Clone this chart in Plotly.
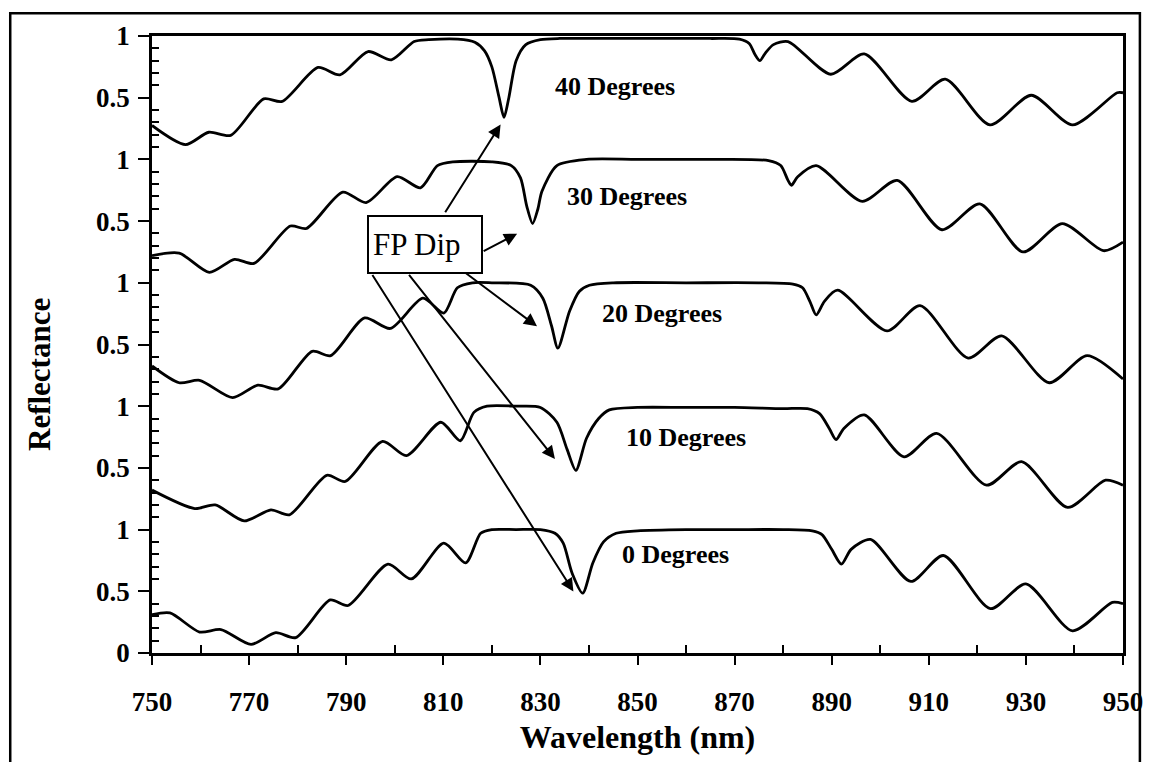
import plotly.graph_objects as go

# ---------------- data ----------------
angles = ["0 Degrees", "10 Degrees", "20 Degrees", "30 Degrees", "40 Degrees"]
offsets = [0, 1, 2, 3, 4]

wl_0 = [750, 753.7, 759.8, 764.2, 770.4, 775.5, 779.6, 786.7, 790.4, 798.6, 803.4, 810.1, 814.6, 817.7,
        820, 825, 830, 833, 834.7, 836.5, 838.7, 840.8, 843, 845.6, 850, 860, 870, 880, 886, 888, 890,
        892, 894, 898, 906.3, 913, 922.7, 930, 939.6, 947.8, 950]
r_0 = [0.31, 0.325, 0.17, 0.19, 0.07, 0.165, 0.125, 0.43, 0.385, 0.72, 0.60, 0.89, 0.73, 0.97,
       1.0, 1.0, 1.0, 0.97, 0.89, 0.65, 0.485, 0.73, 0.9, 0.97, 0.99, 1.0, 1.0, 1.0, 0.99, 0.96, 0.84,
       0.72, 0.84, 0.92, 0.58, 0.79, 0.36, 0.56, 0.18, 0.41, 0.40]

wl_10 = [750, 758.8, 763.0, 769, 774.5, 778.3, 786, 789.8, 797.5, 802.4, 809.5, 813.5, 816.3, 819,
         825, 830, 833.4, 835.5, 837.3, 839.5, 842, 844.2, 850, 860, 870, 880, 885, 887.5, 889.5,
         890.9, 892.5, 896.7, 904.9, 911.6, 921.9, 929.1, 938.6, 946.4, 950]
r_10 = [0.32, 0.17, 0.20, 0.07, 0.16, 0.12, 0.44, 0.39, 0.715, 0.60, 0.87, 0.72, 0.95, 1.0,
        1.0, 0.99, 0.87, 0.65, 0.48, 0.74, 0.9, 0.97, 0.99, 0.99, 0.99, 0.98, 0.98, 0.94, 0.82,
        0.73, 0.82, 0.93, 0.59, 0.78, 0.36, 0.55, 0.18, 0.40, 0.36]

wl_20 = [750, 755.6, 759.8, 766.6, 771.8, 776, 783, 786.8, 793.8, 799.1, 805.8, 810.1, 812.9, 816,
         820, 828, 830.5, 832.3, 833.6, 836, 838, 840.1, 845, 860, 875, 882, 884, 885.5, 886.8,
         888.5, 891.2, 901.4, 908.2, 918.1, 925, 934.8, 942.6, 950]
r_20 = [0.326, 0.19, 0.21, 0.07, 0.17, 0.14, 0.445, 0.41, 0.715, 0.63, 0.875, 0.755, 0.96, 1.0,
        1.0, 0.98, 0.875, 0.65, 0.47, 0.77, 0.93, 0.98, 1.0, 1.0, 1.0, 0.99, 0.96, 0.85, 0.74,
        0.85, 0.94, 0.61, 0.815, 0.39, 0.57, 0.19, 0.41, 0.22]

wl_30 = [750, 755.6, 761.8, 767, 771, 778.5, 781.8, 789.3, 794.1, 800.5, 805.3, 808.8, 812, 820,
         824, 825.9, 827.2, 828.4, 829.5, 830.3, 833.4, 839.5, 850, 865, 877, 879.5, 881, 881.7,
         883, 886.8, 896.3, 903.5, 912.7, 920.5, 929.4, 937.5, 946, 950]
r_30 = [0.22, 0.24, 0.085, 0.19, 0.157, 0.46, 0.44, 0.735, 0.65, 0.86, 0.77, 0.95, 0.98, 0.98,
        0.95, 0.85, 0.62, 0.48, 0.6, 0.74, 0.95, 1.0, 1.0, 1.0, 0.99, 0.95, 0.83, 0.79,
        0.86, 0.95, 0.66, 0.83, 0.43, 0.64, 0.25, 0.48, 0.26, 0.33]

wl_40 = [750, 756.9, 761.7, 766.2, 773, 776.8, 784.2, 788.7, 794.5, 799.3, 804, 807, 813, 816.5,
         818.5, 820, 821.5, 822.5, 823.5, 825, 827, 830, 834, 850, 865, 871, 873, 874.2, 875.2,
         876.3, 878, 881, 889.8, 896.7, 906.5, 913.4, 922.6, 931.1, 939.6, 948.8, 950]
r_40 = [0.275, 0.12, 0.22, 0.195, 0.49, 0.47, 0.745, 0.685, 0.874, 0.807, 0.955, 0.97, 0.975, 0.95,
        0.88, 0.75, 0.5, 0.34, 0.5, 0.8, 0.93, 0.97, 0.98, 0.98, 0.98, 0.975, 0.94, 0.85, 0.80,
        0.86, 0.93, 0.955, 0.69, 0.855, 0.47, 0.65, 0.28, 0.52, 0.28, 0.54, 0.54]

wavelengths = [wl_0, wl_10, wl_20, wl_30, wl_40]
reflectances = [r_0, r_10, r_20, r_30, r_40]

x_ticks = [750, 770, 790, 810, 830, 850, 870, 890, 910, 930, 950]
x_minor = [760, 780, 800, 820, 840, 860, 880, 900, 920, 940]
y_ticks = [0, 0.5, 1, 1.5, 2, 2.5, 3, 3.5, 4, 4.5, 5]
y_ticktext = ["0", "0.5", "1", "0.5", "1", "0.5", "1", "0.5", "1", "0.5", "1"]
y_minor = [round(i * 0.1, 1) for i in range(51) if i % 5 != 0]
baseline_levels = [1, 2, 3, 4]

# label anchors (wavelength, stacked reflectance)
label_x = [857.9, 859.9, 855.0, 847.8, 845.3]
label_y = [0.795, 1.747, 2.754, 3.70, 4.59]

# FP Dip arrows: tail (box) -> head (dip)
arrow_tail_x = [795.2, 802.7, 814.3, 818.0, 810.2]
arrow_tail_y = [3.076, 3.076, 3.089, 3.25, 3.559]
arrow_head_x = [836.8, 833.0, 829.3, 825.2, 821.8]
arrow_head_y = [0.499, 1.572, 2.647, 3.398, 4.283]

# ---------------- figure ----------------
SERIF = "Liberation Serif"
fig = go.Figure()

for wl, r, off, name in zip(wavelengths, reflectances, offsets, angles):
    fig.add_trace(go.Scatter(
        x=wl, y=[v + off for v in r], mode="lines", name=name,
        line=dict(color="black", width=2.8, shape="spline", smoothing=0.75),
        showlegend=False, hoverinfo="skip"))

tickfont = dict(family=SERIF, size=27, color="black", weight="bold")

fig.update_layout(
    width=1155, height=762,
    margin=dict(l=152, r=24, t=36, b=105),
    paper_bgcolor="white", plot_bgcolor="white",
    showlegend=False,
    xaxis=dict(
        range=[750, 950], tickmode="array", tickvals=x_ticks,
        ticktext=[str(v) for v in x_ticks],
        ticks="outside", ticklen=9, tickwidth=2, tickcolor="black",
        showline=True, linewidth=2.5, linecolor="black", mirror=True,
        showgrid=False, zeroline=False,
        minor=dict(ticks="inside", tickvals=x_minor, ticklen=8, tickwidth=1.8, tickcolor="black",
                   showgrid=False),
        tickfont=tickfont, ticklabelstandoff=14,
        title=dict(text="Wavelength (nm)", font=dict(family=SERIF, size=32, color="black", weight="bold"),
                   standoff=10),
    ),
    xaxis2=dict(
        overlaying="x", matches="x", anchor="y", range=[750, 950],
        tickmode="array", tickvals=x_ticks, ticks="inside", ticklen=8, tickwidth=2,
        tickcolor="black", showticklabels=False, showline=False, showgrid=False, zeroline=False,
    ),
    yaxis=dict(
        range=[0, 5], tickmode="array", tickvals=y_ticks, ticktext=y_ticktext,
        ticks="outside", ticklen=11, tickwidth=2, tickcolor="black",
        showline=True, linewidth=2.5, linecolor="black", mirror=True,
        showgrid=False, zeroline=False,
        minor=dict(ticks="inside", tickvals=y_minor, ticklen=7, tickwidth=1.8, tickcolor="black",
                   showgrid=False),
        tickfont=tickfont, ticklabelstandoff=3,
    ),
    yaxis2=dict(
        overlaying="y", matches="y", anchor="x", range=[0, 5],
        tickmode="array", tickvals=y_ticks, ticks="inside", ticklen=6, tickwidth=2,
        tickcolor="black", showticklabels=False, showline=False, showgrid=False, zeroline=False,
    ),
    yaxis3=dict(
        overlaying="y", matches="y", anchor="x", range=[0, 5],
        tickmode="array", tickvals=baseline_levels, ticks="", showticklabels=False,
        showline=False, zeroline=False,
        showgrid=True, gridcolor="black", gridwidth=1.6, griddash="dot",
    ),
)

# y-axis title as annotation (placed slightly below centre as in the original)
fig.add_annotation(
    text="Reflectance", xref="paper", yref="paper", x=-0.1165, y=0.452,
    textangle=-90, showarrow=False, xanchor="center", yanchor="middle",
    font=dict(family=SERIF, size=31, color="black", weight="bold"))

# curve labels
for name, lx, ly in zip(angles, label_x, label_y):
    fig.add_annotation(text=name, x=lx, y=ly, xref="x", yref="y", showarrow=False,
                       font=dict(family=SERIF, size=26, color="black", weight="bold"))

# FP Dip box
fig.add_annotation(text="FP Dip", x=806.3, y=3.31, xref="x", yref="y", showarrow=False,
                   align="left", width=104, height=47, borderpad=4, borderwidth=2,
                   bordercolor="black", bgcolor="white",
                   font=dict(family=SERIF, size=31, color="black"))

for tx, ty, hx, hy in zip(arrow_tail_x, arrow_tail_y, arrow_head_x, arrow_head_y):
    fig.add_annotation(text="", x=hx, y=hy, ax=tx, ay=ty, xref="x", yref="y",
                       axref="x", ayref="y", showarrow=True, arrowhead=2, arrowsize=1.3,
                       arrowwidth=2, arrowcolor="black", standoff=0, startstandoff=0)

# outer frame of the scanned figure
fig.add_shape(type="rect", xref="paper", yref="paper", x0=-0.146, x1=1.0174, y0=-0.35, y1=1.037,
              line=dict(color="black", width=2.5), fillcolor="rgba(0,0,0,0)", layer="above")

fig.write_html("out.html")
